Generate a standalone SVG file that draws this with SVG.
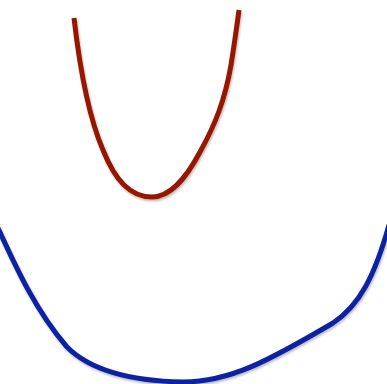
<svg xmlns="http://www.w3.org/2000/svg" width="387" height="384" viewBox="0 0 387 384">
<defs>
<filter id="sh" x="-10%" y="-10%" width="120%" height="120%">
<feDropShadow dx="1" dy="2" stdDeviation="1.2" flood-color="#000" flood-opacity="0.25"/>
</filter>
<style>.c{fill:none;stroke-width:5;stroke-linecap:butt;filter:url(#sh)}</style>
</defs>
<rect width="387" height="384" fill="#fff"/>
<g id="curves">
<path id="red" class="c" stroke="#961800" d="M74,18 C80,70 90,120 103,150 C115,180 130,197 152,197 C170,197 185,180 200,152 C215,125 225,100 231,65 C235,40 237,25 239,10"/>
<path id="blue" class="c" stroke="#0a22a3" d="M-2,228 C15,265 35,310 67,347 C90,370 130,381 183,382 C230,382 270,360 333,323 C360,305 375,275 389,225"/>
</g>
</svg>
